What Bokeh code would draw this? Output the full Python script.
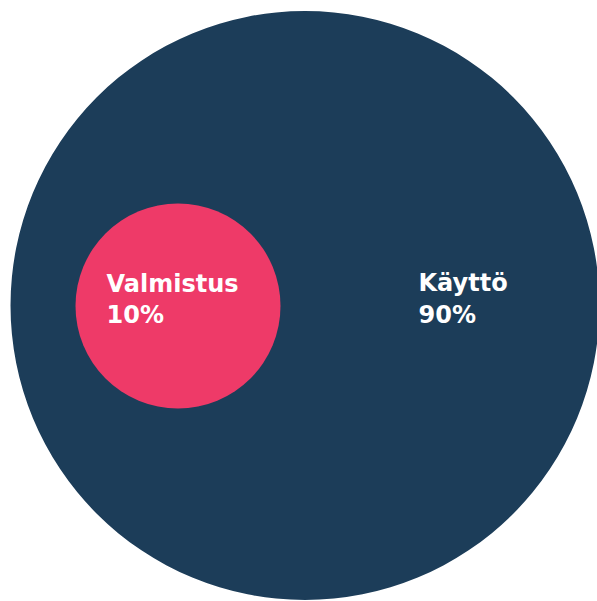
from bokeh.plotting import figure
from bokeh.models import Range1d, ColumnDataSource
from bokeh.core.properties import value
from bokeh.embed import file_html
from bokeh.resources import INLINE

categories = ["Käyttö", "Valmistus"]
shares = [90, 10]
colors = ["#1c3d59", "#ee3a68"]

# layout (pixel-like coordinates)
cx = [304.5, 177.5]
cy = [305.0, 305.5]
radius = [294.5, 102.5]
label_x = [418, 106]
label_y1 = [282, 283]
label_y2 = [314, 314]

W, H = 597, 601
p = figure(width=W, height=H, output_backend="svg", toolbar_location=None,
           x_range=Range1d(0, W), y_range=Range1d(H, 0),
           min_border=0, background_fill_color="white", border_fill_color="white")
p.axis.visible = False
p.grid.visible = False
p.outline_line_color = None

src = ColumnDataSource(dict(x=cx, y=cy, r=radius, c=colors,
                            lx=label_x, ly1=label_y1, ly2=label_y2,
                            name=categories,
                            pct=[f"{s}%" for s in shares]))
p.circle(x="x", y="y", radius="r", fill_color="c", line_color=None, source=src)
p.text(x="lx", y="ly1", text="name", source=src, text_color="white",
       text_font=value("DejaVu Sans"), text_font_style="bold", text_font_size="24px",
       text_baseline="alphabetic", text_align="left")
p.text(x="lx", y="ly2", text="pct", source=src, text_color="white",
       text_font=value("DejaVu Sans"), text_font_style="bold", text_font_size="24px",
       text_baseline="alphabetic", text_align="left")

open("out.html", "w").write(file_html(p, INLINE))
